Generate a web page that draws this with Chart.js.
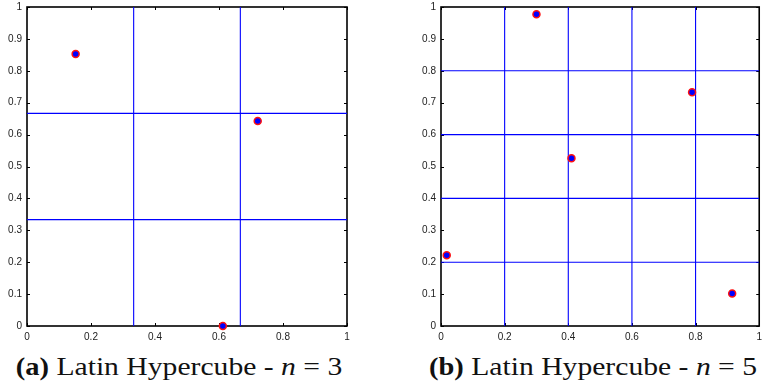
<!DOCTYPE html>
<html>
<head>
<meta charset="utf-8">
<script src="https://cdn.jsdelivr.net/npm/chart.js@4"></script>
<style>
  html, body { margin: 0; padding: 0; background: #fff; }
  body { width: 764px; height: 387px; position: relative; overflow: hidden; }
  canvas { position: absolute; top: -4px; }
  #lhs3 { left: 0; }
  #lhs5 { left: 400px; }
  .caption {
    position: absolute; top: 352px; white-space: nowrap;
    font-family: "Liberation Serif", "DejaVu Serif", serif;
    font-size: 26px; color: #111;
    transform: translateX(-50%) scaleX(1.14);
  }
  .caption b { font-size: 25px; }
</style>
</head>
<body>
<canvas id="lhs3" width="362" height="352"></canvas>
<canvas id="lhs5" width="367" height="352"></canvas>
<div class="caption" style="left:179px"><b>(a)</b> Latin Hypercube - <i>n</i> = 3</div>
<div class="caption" style="left:593px"><b>(b)</b> Latin Hypercube - <i>n</i> = 5</div>

<script>
/* ── Data: sample points and stratum boundaries ─────────── */
const xTicks = [0, 0.2, 0.4, 0.6, 0.8, 1];
const yTicks = [0, 0.1, 0.2, 0.3, 0.4, 0.5, 0.6, 0.7, 0.8, 0.9, 1];

const lhs3X = [0.152, 0.721, 0.612];
const lhs3Y = [0.853, 0.643, 0.0];
const cuts3 = [1 / 3, 2 / 3];

const lhs5X = [0.300, 0.410, 0.789, 0.018, 0.915];
const lhs5Y = [0.977, 0.526, 0.733, 0.222, 0.102];
const cuts5 = [0.2, 0.4, 0.6, 0.8];

const LINE_BLUE = '#0000ff';

/* ── Frame + inward tick marks on all four sides ───────── */
const boxTicks = {
  id: 'boxTicks',
  beforeDatasetsDraw(chart) {
    const { ctx, chartArea: a, scales } = chart;
    ctx.save();
    ctx.strokeStyle = '#000';
    ctx.lineWidth = 1;
    for (const v of xTicks) {
      const px = Math.round(scales.x.getPixelForValue(v)) + 0.5;
      ctx.beginPath();
      ctx.moveTo(px, a.bottom); ctx.lineTo(px, a.bottom - 3);
      ctx.moveTo(px, a.top);    ctx.lineTo(px, a.top + 3);
      ctx.stroke();
    }
    for (const v of yTicks) {
      const py = Math.round(scales.y.getPixelForValue(v)) + 0.5;
      ctx.beginPath();
      ctx.moveTo(a.left, py);  ctx.lineTo(a.left + 3, py);
      ctx.moveTo(a.right, py); ctx.lineTo(a.right - 3, py);
      ctx.stroke();
    }
    ctx.lineWidth = 1.6;
    ctx.strokeRect(a.left, a.top, a.right - a.left, a.bottom - a.top);
    ctx.restore();
  },
};

function makeChart(id, xs, ys, cuts, axisWidth, padRight) {
  const lines = [];
  for (const c of cuts) {
    lines.push({ type: 'line', data: [{ x: c, y: 0 }, { x: c, y: 1 }] });
    lines.push({ type: 'line', data: [{ x: 0, y: c }, { x: 1, y: c }] });
  }
  const lineSets = lines.map(l => ({
    ...l,
    borderColor: LINE_BLUE,
    borderWidth: 1.1,
    pointRadius: 0,
    fill: false,
    order: 2,
  }));

  const tickFont = { family: '"Liberation Sans", Arial, sans-serif', size: 10 };

  return new Chart(document.getElementById(id), {
    type: 'scatter',
    data: {
      datasets: [
        ...lineSets,
        {
          data: xs.map((x, i) => ({ x, y: ys[i] })),
          pointRadius: 3.5,
          pointBackgroundColor: '#0000ff',
          pointBorderColor: '#ff1010',
          pointBorderWidth: 1.5,
          clip: false,
          order: 1,
        },
      ],
    },
    options: {
      responsive: false,
      animation: false,
      devicePixelRatio: 1,
      layout: { padding: { top: 1, right: padRight, left: 0, bottom: 0 } },
      plugins: { legend: { display: false }, tooltip: { enabled: false } },
      scales: {
        x: {
          type: 'linear', min: 0, max: 1,
          afterBuildTicks: s => { s.ticks = xTicks.map(value => ({ value })); },
          afterFit: s => { s.height = 22; },
          ticks: { color: '#222', font: tickFont, padding: 5, maxRotation: 0,
                   callback: v => String(v) },
          grid: { display: false, drawTicks: false },
          border: { display: false },
        },
        y: {
          type: 'linear', min: 0, max: 1,
          afterBuildTicks: s => { s.ticks = yTicks.map(value => ({ value })); },
          afterFit: s => { s.width = axisWidth; },
          ticks: { color: '#222', font: tickFont, padding: 5,
                   callback: v => String(v) },
          grid: { display: false, drawTicks: false },
          border: { display: false },
        },
      },
    },
    plugins: [boxTicks],
  });
}

makeChart('lhs3', lhs3X, lhs3Y, cuts3, 27, 15);
makeChart('lhs5', lhs5X, lhs5Y, cuts5, 41, 1);
</script>
</body>
</html>
